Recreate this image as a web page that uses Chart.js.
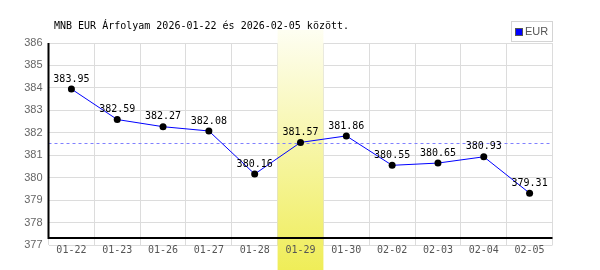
<!DOCTYPE html>
<html>
<head>
<meta charset="utf-8">
<script src="https://cdn.jsdelivr.net/npm/chart.js@4"></script>
<style>
  body { margin: 0; background: #fff; }
</style>
</head>
<body>
<canvas id="chart" width="600" height="270"></canvas>
<script>
const titleText = "MNB EUR Árfolyam 2026-01-22 és 2026-02-05 között.";
const seriesName = "EUR";
const dates = ["01-22", "01-23", "01-26", "01-27", "01-28", "01-29", "01-30", "02-02", "02-03", "02-04", "02-05"];
const eurValues = [383.95, 382.59, 382.27, 382.08, 380.16, 381.57, 381.86, 380.55, 380.65, 380.93, 379.31];
const avgValue = 381.55;
const yMin = 377;
const yMax = 386;
const highlightIndex = 5;

const monoFont = "'DejaVu Sans Mono', monospace";

// sárga kiemelés, átlag vonal, feliratok
const decor = {
    id: "decor",
    beforeDatasetsDraw(chart) {
        const {ctx, chartArea, scales: {x, y}} = chart;
        const half = (x.getPixelForValue(1) - x.getPixelForValue(0)) / 2;
        const cx = x.getPixelForValue(highlightIndex);
        const grad = ctx.createLinearGradient(0, 30, 0, 270);
        grad.addColorStop(0, "#fefef2");
        grad.addColorStop(1, "#efed58");
        ctx.save();
        ctx.fillStyle = grad;
        ctx.fillRect(cx - half, 30, half * 2, 240);

        const ay = Math.round(y.getPixelForValue(avgValue)) + 0.5;
        ctx.strokeStyle = "#8080ff";
        ctx.lineWidth = 1;
        ctx.setLineDash([3, 3]);
        ctx.beginPath();
        ctx.moveTo(chartArea.left, ay);
        ctx.lineTo(chartArea.right, ay);
        ctx.stroke();
        ctx.restore();
    },
    afterDatasetsDraw(chart) {
        const {ctx} = chart;
        const meta = chart.getDatasetMeta(0);
        ctx.save();
        ctx.font = "10px " + monoFont;
        ctx.fillStyle = "#000";
        ctx.textAlign = "center";
        ctx.textBaseline = "middle";
        meta.data.forEach((pt, i) => {
            ctx.fillText(eurValues[i].toFixed(2), pt.x, pt.y - 10);
        });
        ctx.restore();
    },
    afterDraw(chart) {
        const {ctx, chartArea} = chart;
        const axisY = chartArea.bottom - 7;
        ctx.save();
        ctx.strokeStyle = "#000";
        ctx.lineWidth = 2;
        ctx.beginPath();
        ctx.moveTo(chartArea.left, chartArea.top);
        ctx.lineTo(chartArea.left, axisY);
        ctx.lineTo(chartArea.right, axisY);
        ctx.stroke();

        ctx.font = "10px " + monoFont;
        ctx.fillStyle = "#000";
        ctx.textBaseline = "middle";
        ctx.fillText(titleText, 54, 26);

        // jelmagyarázat
        ctx.fillStyle = "#fff";
        ctx.fillRect(511.5, 21.5, 41, 20);
        ctx.strokeStyle = "#d4d4d4";
        ctx.lineWidth = 1;
        ctx.strokeRect(511.5, 21.5, 41, 20);
        ctx.fillStyle = "#0000ff";
        ctx.fillRect(516, 29, 6, 6);
        ctx.strokeStyle = "#555";
        ctx.strokeRect(515.5, 28.5, 7, 7);
        ctx.fillStyle = "#555";
        ctx.font = "11px 'Liberation Sans', sans-serif";
        ctx.fillText(seriesName, 525, 32);
        ctx.restore();
    }
};

const canvas = document.getElementById("chart");
new Chart(canvas, {
    type: "line",
    data: {
        labels: dates,
        datasets: [{
            label: seriesName,
            data: eurValues,
            borderColor: "#0000ff",
            borderWidth: 1,
            tension: 0,
            pointRadius: 3.5,
            pointBackgroundColor: "#000",
            pointBorderWidth: 0
        }]
    },
    options: {
        responsive: false,
        animation: false,
        devicePixelRatio: 1,
        layout: {padding: {left: 0, right: 47.5, top: 43, bottom: 0}},
        plugins: {legend: {display: false}, title: {display: false}, tooltip: {enabled: false}},
        scales: {
            x: {
                offset: true,
                grid: {offset: true, color: "#dcdcdc", drawTicks: false},
                border: {display: false},
                ticks: {
                    color: "#555",
                    font: {family: monoFont, size: 10},
                    padding: -1,
                    maxRotation: 0,
                    autoSkip: false,
                    z: 1
                },
                afterFit(scale) { scale.height = 25; }
            },
            y: {
                min: yMin,
                max: yMax,
                grid: {color: "#dcdcdc", drawTicks: false},
                border: {display: false},
                ticks: {
                    stepSize: 1,
                    color: "#666",
                    font: {family: "'Liberation Sans', sans-serif", size: 11},
                    padding: 6
                },
                afterFit(scale) { scale.width = 48.5; }
            }
        }
    },
    plugins: [decor]
});
</script>
</body>
</html>
